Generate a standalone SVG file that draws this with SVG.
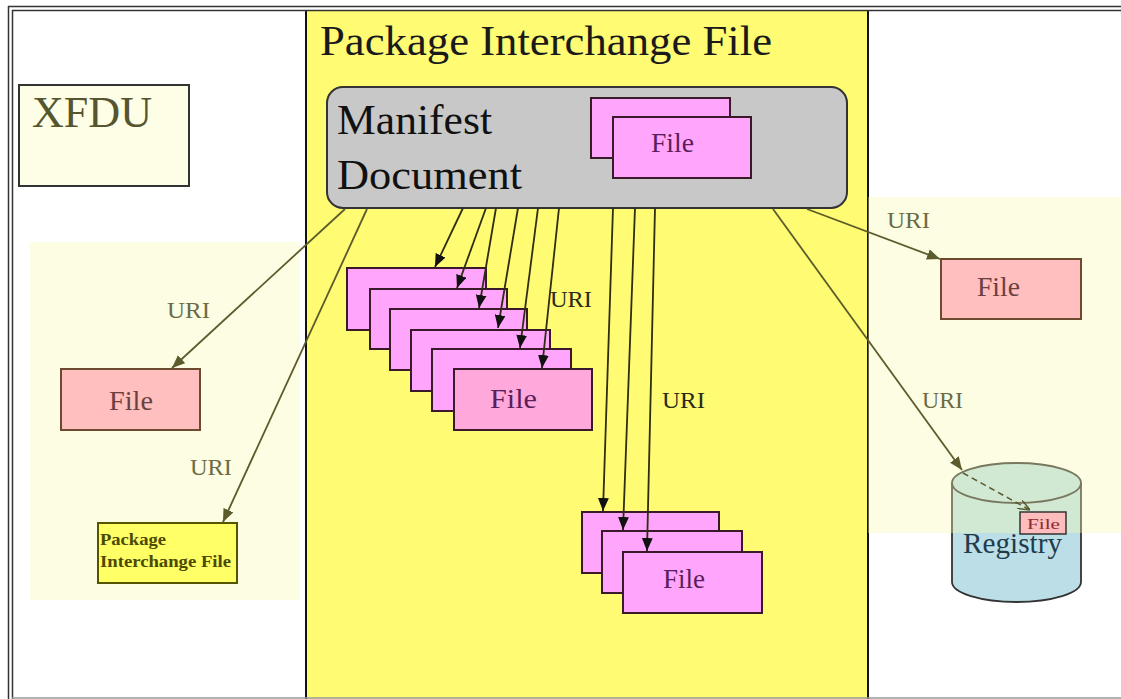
<svg xmlns="http://www.w3.org/2000/svg" width="1121" height="699" viewBox="0 0 1121 699">
<style>
  .serif { font-family: "Liberation Serif", "Times New Roman", serif; }
  .uri-o { font-family: "Liberation Serif", serif; font-size: 24px; fill: #6b6b45; }
  .uri-d { font-family: "Liberation Serif", serif; font-size: 24px; fill: #2a2a1a; }
  .pink { fill: #ffa6fc; stroke: #3a1a2a; stroke-width: 2; }
  .pinkf { fill: #ffa8dc; stroke: #3a1a2a; stroke-width: 2; }
  .rose { fill: #ffbfbf; stroke: #6b4a30; stroke-width: 2; }
  .ftxt { font-family: "Liberation Serif", serif; font-size: 27px; fill: #5a1e5a; }
  .btxt { font-family: "Liberation Serif", serif; font-size: 27px; fill: #6b4040; }
  .c-olive { fill: none; stroke: #5b5b2b; stroke-width: 1.8; marker-end: url(#ahO); }
  .c-dark { fill: none; stroke: #2e2e10; stroke-width: 1.8; marker-end: url(#ahD); }
</style>
<defs>
  <marker id="ahO" viewBox="0 0 12 10" refX="12" refY="5" markerWidth="13" markerHeight="11" markerUnits="userSpaceOnUse" orient="auto">
    <path d="M0,0 L12,5 L0,10 z" fill="#5b5b2b"/>
  </marker>
  <marker id="ahD" viewBox="0 0 12 10" refX="12" refY="5" markerWidth="13" markerHeight="11" markerUnits="userSpaceOnUse" orient="auto">
    <path d="M0,0 L12,5 L0,10 z" fill="#111"/>
  </marker>
  <marker id="ahOpen" viewBox="0 0 12 10" refX="12" refY="5" markerWidth="12" markerHeight="10" markerUnits="userSpaceOnUse" orient="auto">
    <path d="M0,0 L12,5 L0,10" fill="none" stroke="#5a5a30" stroke-width="1.5"/>
  </marker>
</defs>

<g id="background">
  <rect x="0" y="0" width="1121" height="699" fill="#ffffff"/>
  <rect x="306" y="10" width="562" height="689" fill="#fffb73"/>
  <line x1="306" y1="10" x2="306" y2="699" stroke="#111" stroke-width="2"/>
  <line x1="868" y1="10" x2="868" y2="699" stroke="#111" stroke-width="2"/>
  <rect x="30" y="242" width="270" height="358" fill="#fdfde3"/>
  <line x1="8" y1="6.5" x2="1121" y2="6.5" stroke="#333" stroke-width="1.5"/>
  <line x1="12" y1="10.5" x2="1121" y2="10.5" stroke="#333" stroke-width="1.5"/>
  <line x1="8.5" y1="6" x2="8.5" y2="699" stroke="#333" stroke-width="1.5"/>
  <line x1="12.5" y1="10" x2="12.5" y2="699" stroke="#333" stroke-width="1.5"/>
  <line x1="12" y1="698" x2="1121" y2="698" stroke="#999" stroke-width="1.5"/>
</g>

<g id="registry">
  <path d="M952,483 L952,582 A64.5,20 0 0 0 1081,582 L1081,483" fill="#bcdfe7" stroke="#333" stroke-width="1.8"/>
  <ellipse cx="1016.5" cy="483" rx="64.5" ry="20" fill="#bcdfe7" stroke="#333" stroke-width="1.8"/>
  <text x="963" y="553" class="serif" font-size="30" fill="#1e3c4c" textLength="99" lengthAdjust="spacingAndGlyphs">Registry</text>
</g>

<g id="right-region">
  <rect x="868" y="197" width="253" height="336" fill="#f8f8b0" opacity="0.35"/>
</g>

<g id="pkg-title">
  <text x="320" y="55" class="serif" font-size="43" fill="#1a1a1a" textLength="452" lengthAdjust="spacingAndGlyphs">Package Interchange File</text>
</g>

<g id="xfdu">
  <rect x="19" y="85" width="170" height="101" fill="#fefee6" stroke="#333" stroke-width="2"/>
  <text x="32" y="127" class="serif" font-size="45" fill="#555530" textLength="120" lengthAdjust="spacingAndGlyphs">XFDU</text>
</g>

<g id="manifest">
  <rect x="327" y="87" width="520" height="121" rx="16" ry="16" fill="#c8c8c8" stroke="#333" stroke-width="2"/>
  <text x="337" y="134" class="serif" font-size="42" fill="#111" textLength="155" lengthAdjust="spacingAndGlyphs">Manifest</text>
  <text x="337" y="189" class="serif" font-size="42" fill="#111" textLength="185" lengthAdjust="spacingAndGlyphs">Document</text>
  <rect x="591" y="98" width="139" height="60" class="pink"/>
  <rect x="613" y="117" width="138" height="61" class="pink"/>
  <text x="651" y="152" class="ftxt" textLength="43" lengthAdjust="spacingAndGlyphs">File</text>
</g>

<g id="file-left">
  <rect x="61" y="369" width="139" height="61" class="rose"/>
  <text x="109" y="410" class="btxt" textLength="44" lengthAdjust="spacingAndGlyphs">File</text>
</g>

<g id="pif-left">
  <rect x="98" y="523" width="139" height="60" fill="#ffff66" stroke="#555500" stroke-width="2"/>
  <text x="100" y="545" class="serif" font-size="17" font-weight="bold" fill="#4a4a00" textLength="66" lengthAdjust="spacingAndGlyphs">Package</text>
  <text x="100" y="567" class="serif" font-size="17" font-weight="bold" fill="#4a4a00" textLength="131" lengthAdjust="spacingAndGlyphs">Interchange File</text>
</g>

<g id="file-stack-middle">
  <rect x="347" y="268" width="139" height="62" class="pink"/>
  <rect x="370" y="289" width="137" height="60" class="pink"/>
  <rect x="390" y="309" width="137" height="61" class="pink"/>
  <rect x="411" y="330" width="139" height="61" class="pink"/>
  <rect x="432" y="349" width="139" height="62" class="pink"/>
  <rect x="454" y="369" width="138" height="61" class="pinkf"/>
  <text x="490" y="408" class="ftxt" textLength="47" lengthAdjust="spacingAndGlyphs">File</text>
</g>

<g id="file-stack-lower">
  <rect x="582" y="512" width="137" height="61" class="pink"/>
  <rect x="602" y="531" width="140" height="62" class="pink"/>
  <rect x="623" y="552" width="139" height="61" class="pink"/>
  <text x="663" y="588" class="ftxt" textLength="42" lengthAdjust="spacingAndGlyphs">File</text>
</g>

<g id="file-right">
  <rect x="941" y="259" width="140" height="60" class="rose"/>
  <text x="977" y="296" class="btxt" textLength="43" lengthAdjust="spacingAndGlyphs">File</text>
</g>

<g id="file-registry">
  <rect x="1020" y="512" width="46" height="22" fill="#ffbcbc" stroke="#333" stroke-width="1.5"/>
  <text x="1027" y="529" class="serif" font-size="14" fill="#8b2a2a" textLength="33" lengthAdjust="spacingAndGlyphs">File</text>
</g>

<g id="connectors">
  <line x1="345" y1="209" x2="172" y2="368" class="c-olive"/>
  <line x1="367" y1="209" x2="223" y2="522" class="c-olive"/>
  <line x1="807" y1="209" x2="940" y2="259" class="c-olive"/>
  <line x1="773" y1="209" x2="962" y2="470" class="c-olive"/>
  <line x1="463" y1="208" x2="435" y2="267" class="c-dark"/>
  <line x1="486" y1="208" x2="457" y2="288" class="c-dark"/>
  <line x1="496" y1="208" x2="479" y2="308" class="c-dark"/>
  <line x1="518" y1="208" x2="498" y2="328" class="c-dark"/>
  <line x1="538" y1="208" x2="520" y2="348" class="c-dark"/>
  <line x1="559" y1="208" x2="542" y2="368" class="c-dark"/>
  <line x1="613" y1="208" x2="603" y2="511" class="c-dark"/>
  <line x1="635" y1="208" x2="623" y2="530" class="c-dark"/>
  <line x1="655" y1="208" x2="647" y2="551" class="c-dark"/>
  <line x1="963" y1="473" x2="1030" y2="510" fill="none" stroke="#5a5a30" stroke-width="1.5" stroke-dasharray="6,4" marker-end="url(#ahOpen)"/>
  <text x="167" y="318" class="uri-o" textLength="43" lengthAdjust="spacingAndGlyphs">URI</text>
  <text x="190" y="475" class="uri-o" textLength="42" lengthAdjust="spacingAndGlyphs">URI</text>
  <text x="550" y="307" class="uri-d" textLength="42" lengthAdjust="spacingAndGlyphs">URI</text>
  <text x="662" y="408" class="uri-d" textLength="43" lengthAdjust="spacingAndGlyphs">URI</text>
  <text x="887" y="228" class="uri-o" textLength="43" lengthAdjust="spacingAndGlyphs">URI</text>
  <text x="922" y="408" class="uri-o" textLength="41" lengthAdjust="spacingAndGlyphs">URI</text>
</g>
</svg>
